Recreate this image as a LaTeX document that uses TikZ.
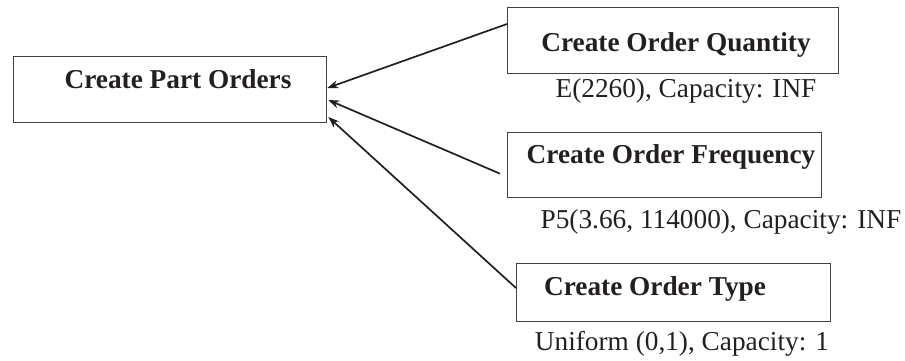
\documentclass[tikz,border=0pt]{standalone}
\usepackage{fontspec}
\setmainfont{Liberation Serif}
\usetikzlibrary{arrows.meta,calc}
\definecolor{ink}{HTML}{231F20}
\tikzset{
  x=1pt, y=-1pt,
  box/.style={draw=ink!85, line width=1.3pt, rectangle, inner sep=0pt, anchor=north west},
  title/.style={anchor=base, inner sep=0pt, text=ink, font=\fontsize{27.3}{32}\selectfont\bfseries},
  note/.style={anchor=base, inner sep=0pt, text=ink, font=\fontsize{27.3}{32}\selectfont},
  feed/.style={draw=ink, line width=1.7pt, -{Stealth[length=11pt,width=8pt]}}
}
\begin{document}
\begin{tikzpicture}
\useasboundingbox (0,0) rectangle (905,360);

% boxes
\node[box, minimum width=313pt, minimum height=66pt] (po) at (13,56) {};
\node[box, minimum width=331pt, minimum height=66pt] (oq) at (507,7) {};
\node[box, minimum width=314pt, minimum height=65pt] (of) at (507,132) {};
\node[box, minimum width=314pt, minimum height=58pt] (ot) at (516,263) {};

% box titles
\node[title] (tpo) at (178,88) {Create Part Orders};
\node[title] (toq) at (676,51) {Create Order Quantity};
\node[title] (tof) at (671,163) {Create Order Frequency};
\node[title] (tot) at (655,295) {Create Order Type};

% distributions and capacities
\node[note] (noq) at (686,97) {E(2260), Capacity: INF};
\node[note] (nof) at (721,228) {P5(3.66, 114000), Capacity: INF};
\node[note] (not) at (682,350) {Uniform (0,1), Capacity: 1};

% connectors
\coordinate (fstart) at ($(of.west)+(-7,8.5)$);
\draw[feed] ($(oq.north west)+(0,17)$) -- ($(po.north east)+(0,32)$);
\draw[feed] (fstart) -- ($(po.north east)+(1,44)$);
\draw[feed] ($(ot.north west)+(0,25)$) -- ($(po.north east)+(1,61)$);
\end{tikzpicture}
\end{document}
